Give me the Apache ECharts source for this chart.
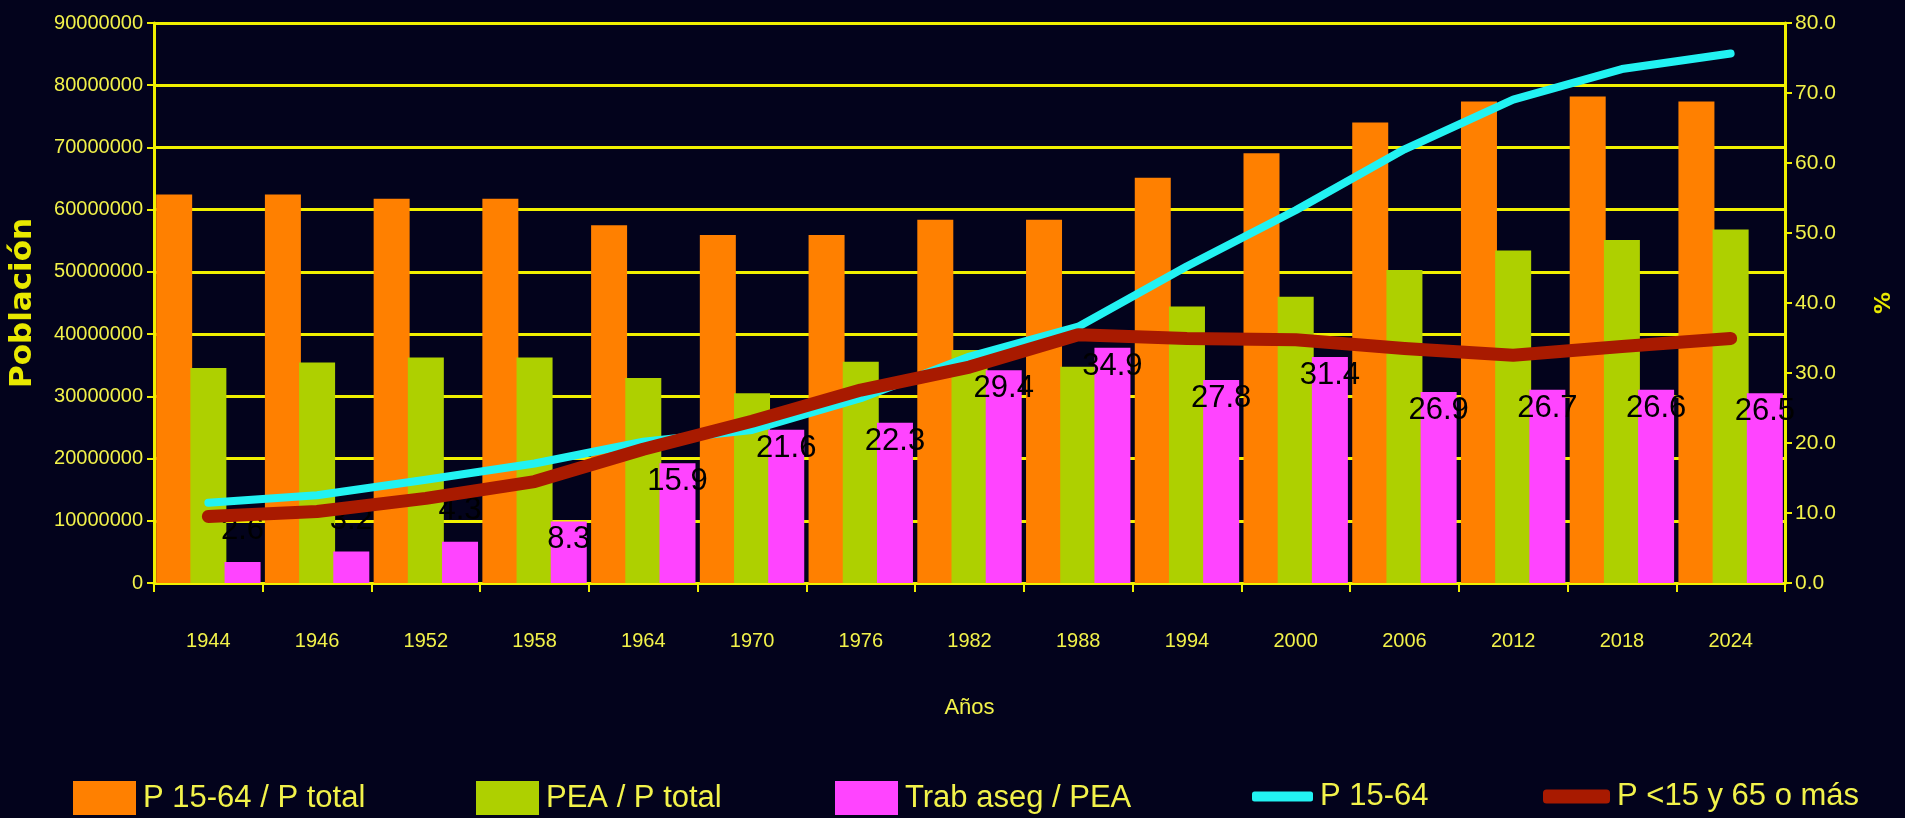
<!DOCTYPE html>
<html>
<head>
<meta charset="utf-8">
<script src="https://cdn.jsdelivr.net/npm/echarts@6/dist/echarts.min.js"></script>
<style>
html,body{margin:0;padding:0;background:#03031c;}
#chart{width:1905px;height:818px;}
</style>
</head>
<body>
<div id="chart"></div>
<script>
const years = ['1944','1946','1952','1958','1964','1970','1976','1982','1988','1994','2000','2006','2012','2018','2024'];
const p1564Share = [55.5,55.5,54.9,54.9,51.1,49.7,49.7,51.9,51.9,57.9,61.4,65.8,68.8,69.5,68.8];
const peaShare = [30.7,31.5,32.2,32.2,29.3,27.1,31.6,33.3,30.9,39.5,40.9,44.7,47.5,49.0,50.5];
const trabAseg = [3.0,4.5,5.9,8.8,17.1,21.9,22.9,30.4,33.6,29.0,32.3,27.3,27.6,27.6,27.1];
const trabAsegLabels = ['2.6','3.2','4.3','8.3','15.9','21.6','22.3','29.4','34.9','27.8','31.4','26.9','26.7','26.6','26.5'];
const p1564 = [12900000,14100000,16600000,19200000,22700000,24600000,29700000,36400000,41200000,50900000,59900000,69700000,77700000,82600000,85100000];
const pDep = [10700000,11500000,13600000,16300000,21500000,26000000,31000000,34700000,39900000,39300000,39100000,37700000,36600000,38000000,39300000];
const names = ['P 15-64 / P total','PEA / P total','Trab aseg / PEA','P 15-64','P <15 y 65 o más'];

const NARROW = '"Liberation Sans Narrow","Arial Narrow","Liberation Sans",Arial,sans-serif';
const YEL = '#f2f24a';
const GRID_YEL = '#f0f000';

const chart = echarts.init(document.getElementById('chart'));

function legendItem(name, left, icon, w, h) {
  return {
    data: [name], left: left, top: 781, padding: 0,
    icon: icon, itemWidth: w, itemHeight: h, itemGap: 0,
    textStyle: {color: YEL, fontSize: 31, fontFamily: NARROW, padding: [0,0,0,2]}
  };
}

chart.setOption({
  backgroundColor: '#03031c',
  animation: false,
  grid: {left: 154, right: 120, top: 23, bottom: 235, containLabel: false, outerBoundsMode: 'none'},
  legend: [
    legendItem(names[0], 73, 'rect', 63, 34),
    legendItem(names[1], 476, 'rect', 63, 34),
    legendItem(names[2], 835, 'rect', 63, 34),
    legendItem(names[3], 1252, 'roundRect', 61, 10),
    legendItem(names[4], 1543, 'roundRect', 67, 14)
  ],
  xAxis: {
    type: 'category', data: years,
    name: 'Años', nameLocation: 'middle', nameGap: 114,
    nameTextStyle: {color: YEL, fontSize: 22, fontFamily: NARROW},
    axisLine: {lineStyle: {color: GRID_YEL, width: 3}},
    axisTick: {show: true, alignWithLabel: false, length: 9, lineStyle: {color: GRID_YEL, width: 2}},
    axisLabel: {color: YEL, fontSize: 20, fontFamily: NARROW, margin: 48},
    splitLine: {show: false}
  },
  yAxis: [
    {
      type: 'value', min: 0, max: 90000000, interval: 10000000,
      name: 'Población', nameLocation: 'middle', nameGap: 116, nameRotate: 90, nameMoveOverlap: false,
      nameTextStyle: {color: '#e8e800', fontSize: 31, fontWeight: 'bold', fontFamily: '"DejaVu Sans",sans-serif'},
      axisLine: {show: true, lineStyle: {color: GRID_YEL, width: 3}},
      axisTick: {show: true, length: 7, lineStyle: {color: GRID_YEL, width: 2}},
      axisLabel: {color: YEL, fontSize: 20, fontFamily: NARROW, margin: 11, formatter: v => String(v)},
      splitLine: {show: true, lineStyle: {color: GRID_YEL, width: 3}}
    },
    {
      type: 'value', min: 0, max: 80, interval: 10, position: 'right',
      name: '%', nameLocation: 'middle', nameGap: 88, nameRotate: 90, nameMoveOverlap: false,
      nameTextStyle: {color: '#e8e800', fontSize: 22, fontWeight: 'bold', fontFamily: '"DejaVu Sans",sans-serif'},
      axisLine: {show: true, lineStyle: {color: GRID_YEL, width: 3}},
      axisTick: {show: true, length: 7, lineStyle: {color: GRID_YEL, width: 2}},
      axisLabel: {color: YEL, fontSize: 21, fontFamily: NARROW, margin: 10, formatter: v => v.toFixed(1)},
      splitLine: {show: false}
    }
  ],
  series: [
    {
      name: names[0], type: 'bar', yAxisIndex: 1, data: p1564Share,
      barWidth: 36, barGap: '-5%', z: 2,
      itemStyle: {color: '#ff8000'}
    },
    {
      name: names[1], type: 'bar', yAxisIndex: 1, data: peaShare,
      barWidth: 36, barGap: '-5%', z: 2,
      itemStyle: {color: '#aed000'}
    },
    {
      name: names[2], type: 'bar', yAxisIndex: 1,
      data: trabAseg.map((v, i) => ({
        value: v,
        label: v < 8 ? {position: 'top', distance: 16} : {position: 'insideTop', distance: 3}
      })),
      barWidth: 36, barGap: '-5%', z: 2,
      itemStyle: {color: '#ff44ff'},
      label: {
        show: true, color: '#000000', fontSize: 31, fontFamily: NARROW,
        formatter: p => trabAsegLabels[p.dataIndex]
      }
    },
    {
      name: names[3], type: 'line', yAxisIndex: 0, data: p1564,
      symbol: 'none', z: 5,
      itemStyle: {color: '#22f2f2'},
      lineStyle: {color: '#22f2f2', width: 8, cap: 'round', join: 'round'}
    },
    {
      name: names[4], type: 'line', yAxisIndex: 0, data: pDep,
      symbol: 'none', z: 6,
      itemStyle: {color: '#a81a00'},
      lineStyle: {color: '#a81a00', width: 13, cap: 'round', join: 'round'}
    }
  ]
});
</script>
</body>
</html>
